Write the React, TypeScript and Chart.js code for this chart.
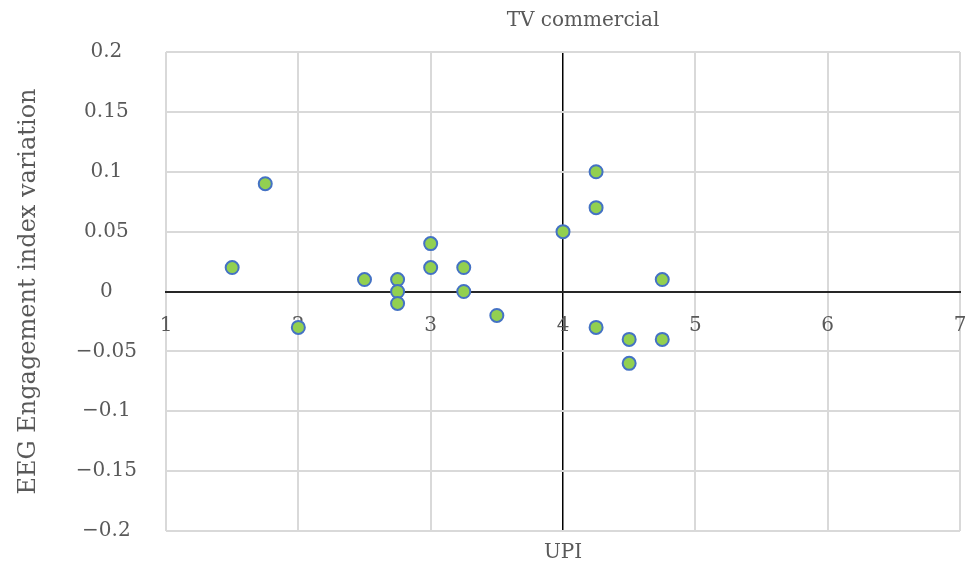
import React, { useEffect, useRef } from 'react';
import { Chart, registerables } from 'chart.js';

Chart.register(...registerables);

const chartTitle = 'TV commercial';
const xAxisTitle = 'UPI';
const yAxisTitle = 'EEG Engagement index variation';

const upiValues = [1.5, 1.75, 2, 2.5, 2.75, 2.75, 2.75, 3, 3, 3.25, 3.25, 3.5, 4, 4.25, 4.25, 4.25, 4.5, 4.5, 4.75, 4.75];
const eegValues = [0.02, 0.09, -0.03, 0.01, 0.01, 0, -0.01, 0.04, 0.02, 0.02, 0, -0.02, 0.05, 0.1, 0.07, -0.03, -0.04, -0.06, 0.01, -0.04];

const xTickValues = [1, 2, 3, 4, 5, 6, 7];
const yTickValues = [-0.2, -0.15, -0.1, -0.05, 0, 0.05, 0.1, 0.15, 0.2];

const FONT = 'DejaVu Serif';
const TEXT = '#595959';
const GRID = '#d9d9d9';
const AXIS = '#262626';

function fmt(v: number): string {
  const r = Math.round(v * 100) / 100;
  return String(r).replace('-', '\u2212');
}

const titleShift = {
  id: 'titleShift',
  afterLayout(chart: any) {
    const s = chart.scales.xTop;
    if (s) {
      s.left += 20;
      s.right += 20;
    }
  },
};

export default function App() {
  const ref = useRef<HTMLCanvasElement | null>(null);

  useEffect(() => {
    if (!ref.current) return;
    const points = upiValues.map((x, i) => ({ x, y: eegValues[i] }));
    const chart = new Chart(ref.current, {
      type: 'scatter',
      data: {
        datasets: [
          {
            data: points,
            xAxisID: 'x',
            yAxisID: 'y',
            pointRadius: 6.5,
            pointHoverRadius: 6.5,
            pointBorderWidth: 2,
            pointBackgroundColor: '#92D050',
            pointBorderColor: '#4472C4',
            showLine: false,
          },
        ],
      },
      options: {
        animation: false,
        responsive: true,
        maintainAspectRatio: false,
        layout: { padding: { left: 0, right: 8, top: 0, bottom: 0 }, autoPadding: false },
        plugins: {
          legend: { display: false },
          tooltip: { enabled: false },
          title: { display: false },
        },
        scales: {
          x: {
            type: 'linear',
            position: { y: 0 },
            min: 1,
            max: 7,
            afterBuildTicks: (s: any) => {
              s.ticks = xTickValues.map((v) => ({ value: v }));
            },
            afterFit: (s: any) => {
              s.paddingLeft = 0;
              s.paddingRight = 0;
              s.paddingTop = 0;
              s.paddingBottom = 0;
            },
            ticks: {
              padding: 22,
              color: TEXT,
              font: { family: FONT, size: 20 },
              maxRotation: 0,
              callback: (v: any) => fmt(Number(v)),
            },
            grid: {
              drawTicks: false,
              tickLength: 0,
              color: (ctx: any) => (ctx.tick && ctx.tick.value === 4 ? '#000000' : GRID),
              lineWidth: (ctx: any) => (ctx.tick && ctx.tick.value === 4 ? 1.5 : 2),
            },
            border: { display: true, color: AXIS, width: 2 },
          },
          xTop: {
            type: 'linear',
            position: 'top',
            min: 1,
            max: 7,
            afterFit: (s: any) => {
              s.height = 52;
              s.paddingLeft = 0;
              s.paddingRight = 0;
            },
            ticks: { display: false },
            grid: { display: false, drawTicks: false },
            border: { display: false },
            title: {
              display: true,
              text: chartTitle,
              color: TEXT,
              font: { family: FONT, size: 20, lineHeight: 1.2 },
              padding: { top: 9, bottom: 0 },
            },
          },
          xBottom: {
            type: 'linear',
            position: 'bottom',
            min: 1,
            max: 7,
            afterFit: (s: any) => {
              s.height = 31;
              s.paddingLeft = 0;
              s.paddingRight = 0;
            },
            ticks: { display: false },
            grid: { display: false, drawTicks: false },
            border: { display: false },
            title: {
              display: true,
              text: xAxisTitle,
              color: TEXT,
              font: { family: FONT, size: 20, lineHeight: 0.9 },
              padding: { top: 0, bottom: 0 },
            },
          },
          y: {
            type: 'linear',
            position: 'left',
            min: -0.2,
            max: 0.2,
            afterBuildTicks: (s: any) => {
              s.ticks = yTickValues.map((v) => ({ value: v }));
            },
            afterFit: (s: any) => {
              s.width = 166;
              s.paddingTop = 0;
              s.paddingBottom = 0;
            },
            ticks: {
              padding: 29,
              crossAlign: 'center',
              color: TEXT,
              font: { family: FONT, size: 20 },
              callback: (v: any) => fmt(Number(v)),
            },
            grid: {
              drawTicks: false,
              tickLength: 0,
              color: (ctx: any) => (ctx.tick && ctx.tick.value === 0 ? AXIS : GRID),
              lineWidth: 2,
            },
            border: { display: false },
            title: {
              display: true,
              text: yAxisTitle,
              color: TEXT,
              font: { family: FONT, size: 24, lineHeight: 1.2 },
              padding: { top: 14, bottom: 0 },
            },
          },
        },
      } as any,
      plugins: [titleShift],
    });
    return () => chart.destroy();
  }, []);

  return (
    <div style={{ position: 'absolute', left: 0, top: 0, width: 968, height: 562, background: '#ffffff' }}>
      <canvas ref={ref} />
    </div>
  );
}
